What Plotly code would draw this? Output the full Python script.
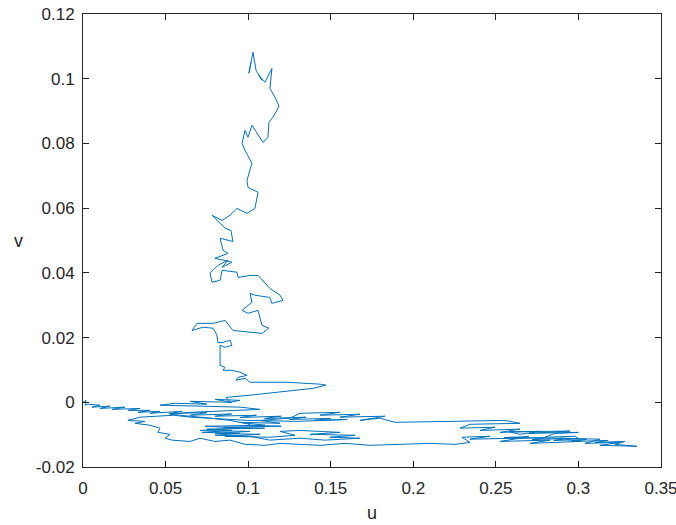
import plotly.graph_objects as go

# Random-walk path (u, v), in drawing order.
# A: start and upper-left band
uA = [0, 0.0018, 0.0012, 0.003, 0.0103, 0.0054, 0.0163, 0.0103, 0.0254, 0.0176,
      0.0345, 0.0272, 0.0406, 0.0333, 0.0466, 0.0406, 0.0497,
      0.06, 0.052, 0.075, 0.065, 0.09, 0.08, 0.105, 0.095, 0.12, 0.11, 0.135, 0.125,
      0.15, 0.14, 0.16, 0.13, 0.1, 0.08, 0.065, 0.055]
vA = [0, 0.0006, -0.0009, -0.0006, -0.0009, -0.0015, -0.0012, -0.0019, -0.0015, -0.0022,
      -0.0019, -0.0025, -0.0025, -0.0031, -0.0028, -0.0034, -0.0031,
      -0.0028, -0.0035, -0.0032, -0.004, -0.0036, -0.0043, -0.004, -0.0047, -0.0043, -0.005,
      -0.0046, -0.0053, -0.005, -0.0056, -0.0053, -0.0059, -0.0056, -0.005, -0.0046, -0.004]

# B: lower loop and bottom line
uB = [0.0454, 0.0345, 0.0272, 0.0375, 0.0315, 0.0406, 0.0466, 0.0454, 0.0527, 0.0497,
      0.0539, 0.0648, 0.0708, 0.0799, 0.089, 0.0981, 0.1102, 0.1193, 0.1314, 0.1435,
      0.1586, 0.1738, 0.1919, 0.2101, 0.2252, 0.2343]
vB = [-0.0043, -0.0046, -0.0056, -0.0059, -0.0065, -0.0071, -0.008, -0.0093, -0.0099, -0.0111,
      -0.0117, -0.0121, -0.0111, -0.0121, -0.0117, -0.013, -0.0133, -0.0127, -0.013, -0.0133,
      -0.0127, -0.0133, -0.013, -0.0127, -0.013, -0.0124]

# C: right-hand cluster
uC = [0.2295, 0.2464, 0.2343, 0.2646, 0.2525, 0.2828, 0.2707, 0.3009, 0.2888, 0.313,
      0.304, 0.3252, 0.313, 0.3354, 0.3221, 0.3282,
      0.31, 0.318, 0.296, 0.305, 0.285, 0.293, 0.272, 0.28, 0.262, 0.27, 0.255, 0.30,
      0.2979, 0.2797, 0.2858, 0.30, 0.27, 0.295, 0.258,
      0.2646, 0.2767, 0.2525, 0.2646, 0.2404, 0.2495, 0.2283]
vC = [-0.0108, -0.0105, -0.0114, -0.0111, -0.0121, -0.0117, -0.0127, -0.0121, -0.0111, -0.0114,
      -0.0127, -0.0124, -0.0133, -0.0136, -0.013, -0.0121,
      -0.0124, -0.0118, -0.0121, -0.0115, -0.0118, -0.0112, -0.0115, -0.0109, -0.0112, -0.0106,
      -0.0109, -0.0112,
      -0.0105, -0.0108, -0.0096, -0.0093, -0.0096, -0.0089, -0.0091,
      -0.0099, -0.009, -0.0093, -0.0083, -0.0087, -0.0077, -0.008]

# D: middle band heading left
uD = [0.2343, 0.2646, 0.2555, 0.2101, 0.1889, 0.1798, 0.1677, 0.1829, 0.1556, 0.1677,
      0.1435, 0.1556, 0.1314]
vD = [-0.0068, -0.0065, -0.0056, -0.0059, -0.0062, -0.0049, -0.0056, -0.0043, -0.0046, -0.0037,
      -0.004, -0.0031, -0.0034]

# E: central clusters below zero
uE = [0.1253, 0.1072, 0.1193, 0.0951, 0.1102, 0.0739, 0.0951, 0.0708, 0.1011, 0.0799,
      0.1072, 0.086, 0.1132, 0.1284, 0.1193, 0.1314, 0.1556, 0.1374, 0.1647, 0.1496,
      0.1677, 0.1465, 0.1314, 0.1132, 0.1011,
      0.08, 0.095, 0.072, 0.09, 0.075, 0.11, 0.085, 0.12, 0.1]
vE = [-0.0049, -0.0056, -0.0065, -0.0062, -0.0071, -0.0074, -0.008, -0.0087, -0.009, -0.0096,
      -0.0099, -0.0105, -0.0108, -0.0102, -0.009, -0.0087, -0.0093, -0.0099, -0.0102, -0.0108,
      -0.0111, -0.0117, -0.0111, -0.0117, -0.0105,
      -0.0102, -0.0096, -0.0093, -0.0087, -0.0083, -0.008, -0.0077, -0.0074, -0.0071]

# F: rise back towards zero
uF = [0.1011, 0.089, 0.0769, 0.0648, 0.0527, 0.0648, 0.089, 0.1072, 0.0951, 0.0708,
      0.0466, 0.0557, 0.075, 0.065, 0.09, 0.08, 0.095, 0.089]
vF = [-0.0068, -0.0056, -0.0049, -0.0043, -0.0037, -0.0031, -0.0025, -0.0022, -0.0015, -0.0012,
      -0.0009, -0.0003, -0.0006, 0.0003, 0, 0.0009, 0.0006, 0]

# G: arm to the right, then the climb up the column
uG = [0.0866, 0.1011, 0.129, 0.1393, 0.1471, 0.1435, 0.1235, 0.1011, 0.0981,
      0.0926, 0.0939, 0.0993, 0.0951, 0.0902, 0.0848, 0.086, 0.083, 0.083, 0.083,
      0.086, 0.0902, 0.089, 0.0848, 0.0817, 0.0811, 0.0787, 0.0727, 0.066, 0.069,
      0.0787, 0.086, 0.0908, 0.1011, 0.1084, 0.1126, 0.1084, 0.106, 0.0999, 0.0963,
      0.1023, 0.1011, 0.1041, 0.1132, 0.1144, 0.1211, 0.1193, 0.1132, 0.106, 0.1011,
      0.0939, 0.0932, 0.0842, 0.083, 0.0781, 0.0769, 0.0817, 0.0878, 0.0842, 0.0902,
      0.0799, 0.0878, 0.0848, 0.083, 0.0908, 0.0896, 0.086, 0.0781, 0.0842, 0.089,
      0.0932, 0.0993, 0.1041, 0.106, 0.0999, 0.0993, 0.1023, 0.0981, 0.0963, 0.0981,
      0.0999, 0.1023, 0.109, 0.112, 0.1126, 0.115, 0.1187, 0.1163, 0.1132, 0.1144,
      0.1102, 0.1066, 0.1084, 0.1048, 0.1029, 0.1005, 0.1017]
vG = [0.0015, 0.0022, 0.0037, 0.0043, 0.0053, 0.0056, 0.0062, 0.0062, 0.0074,
      0.0068, 0.0077, 0.0083, 0.0093, 0.0099, 0.0099, 0.0108, 0.0114, 0.0136, 0.0176,
      0.017, 0.0176, 0.0192, 0.0185, 0.0185, 0.0207, 0.0229, 0.0232, 0.0222, 0.0244,
      0.0244, 0.0253, 0.0222, 0.0216, 0.0213, 0.0229, 0.0238, 0.0284, 0.0275, 0.0284,
      0.0309, 0.0337, 0.0331, 0.0324, 0.0306, 0.0315, 0.0331, 0.0352, 0.0392, 0.0392,
      0.0386, 0.0402, 0.0408, 0.0377, 0.0371, 0.0399, 0.0423, 0.0439, 0.0417, 0.0433,
      0.0445, 0.046, 0.047, 0.0507, 0.0497, 0.0531, 0.0538, 0.0578, 0.0562, 0.0578,
      0.0599, 0.0584, 0.0599, 0.0649, 0.0664, 0.0686, 0.0739, 0.0779, 0.08, 0.084,
      0.0819, 0.0856, 0.0803, 0.0819, 0.0865, 0.0881, 0.0915, 0.0942, 0.097, 0.1032,
      0.0989, 0.101, 0.0995, 0.1026, 0.1082, 0.1017, 0.1051]

x_ticks = [0, 0.05, 0.1, 0.15, 0.2, 0.25, 0.3, 0.35]
x_labels = ["0", "0.05", "0.1", "0.15", "0.2", "0.25", "0.3", "0.35"]
y_ticks = [-0.02, 0, 0.02, 0.04, 0.06, 0.08, 0.1, 0.12]
y_labels = ["-0.02", "0", "0.02", "0.04", "0.06", "0.08", "0.1", "0.12"]

u = uA + uB + uC + uD + uE + uF + uG
v = vA + vB + vC + vD + vE + vF + vG

FONT = "Liberation Sans, Arial, sans-serif"
TXT = "#262626"

fig = go.Figure()
fig.add_trace(go.Scatter(x=u, y=v, mode="lines",
                         line=dict(color="#0072BD", width=1),
                         showlegend=False, hoverinfo="skip"))

axis_common = dict(showgrid=False, zeroline=False, showline=True, mirror="ticks",
                   linecolor=TXT, linewidth=1, ticks="inside", ticklen=6,
                   tickcolor=TXT, automargin=False, ticklabeloverflow="allow",
                   tickfont=dict(family=FONT, size=17, color=TXT))

fig.update_xaxes(range=[0, 0.35], tickvals=x_ticks, ticktext=x_labels,
                 ticklabelstandoff=6, **axis_common)
fig.update_yaxes(range=[-0.02, 0.12], tickvals=y_ticks, ticktext=y_labels,
                 ticklabelstandoff=4, **axis_common)

fig.add_annotation(text="v", xref="paper", yref="paper", x=-0.112, y=0.5,
                   showarrow=False, xanchor="center", yanchor="middle",
                   font=dict(family=FONT, size=18, color=TXT))
fig.add_annotation(text="u", xref="paper", yref="paper", x=0.5, y=-0.102,
                   showarrow=False, xanchor="center", yanchor="middle",
                   font=dict(family=FONT, size=18, color=TXT))

fig.update_layout(width=676, height=525, paper_bgcolor="white", plot_bgcolor="white",
                  margin=dict(l=83, r=15, t=14, b=58))

fig.write_html("out.html", config={"displayModeBar": False})

# remove the browser's default page margin so the figure sits at the window's corner
with open("out.html", encoding="utf-8") as f:
    html = f.read()
html = html.replace("<head>", "<head><style>html,body{margin:0;padding:0;overflow:hidden;}</style>", 1)
with open("out.html", "w", encoding="utf-8") as f:
    f.write(html)
